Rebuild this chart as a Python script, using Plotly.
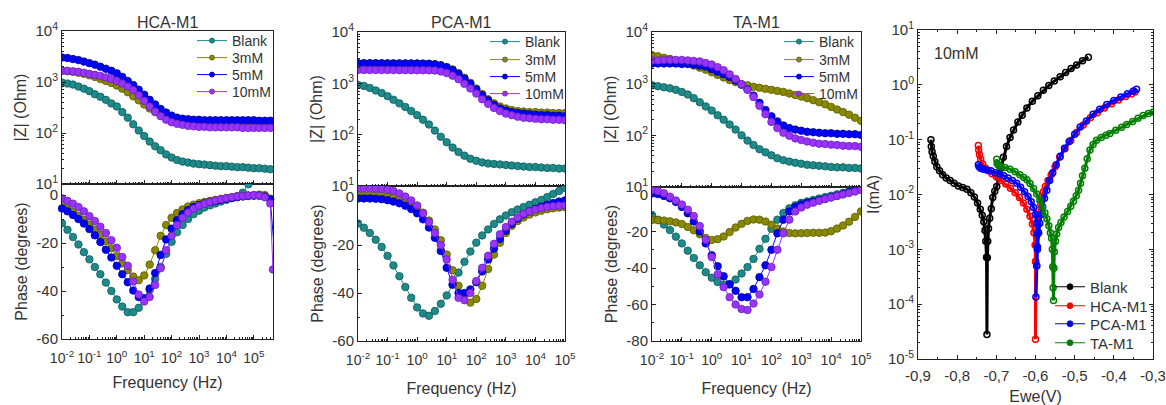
import plotly.graph_objects as go

# ---------------------------------------------------------------- data
# EIS frequency grid (Hz), five points per decade
FREQ = [0.01, 0.0158, 0.0251, 0.0398, 0.0631, 0.1, 0.158, 0.251, 0.398, 0.631,
        1.0, 1.58, 2.51, 3.98, 6.31, 10.0, 15.8, 25.1, 39.8, 63.1,
        100, 158, 251, 398, 631, 1000, 1580, 2510, 3980, 6310,
        10000, 15800, 25100, 39800, 63100, 100000]
FREQ_HCA = FREQ + [158000, 251000, 398000]
HCA_TAIL_FREQ_5MM = 600000
HCA_TAIL_FREQ_10MM = 500000
HCA_TAIL_PHASE_5MM = -27
HCA_TAIL_PHASE_10MM = -31

SERIES = ["Blank", "3mM", "5mM", "10mM"]

# HCA-M1 : |Z| (Ohm) and phase (degrees)
HCA_Z_BLANK = [977, 933, 891, 813, 741, 661, 575, 513, 447, 380, 331, 257, 200, 148, 112, 87, 68, 55, 46, 38,
               33, 29.5, 27.5, 26.3, 25.1, 24.5, 24.0, 23.4, 22.9, 22.4, 22.4, 21.9, 21.4, 21.4, 20.9, 20.4,
               20.4, 20.0, 19.5]
HCA_Z_3MM = [1660, 1622, 1585, 1514, 1445, 1349, 1259, 1148, 1047, 955, 851, 741, 631, 525, 437, 363, 302, 257,
             224, 200, 182, 166, 155, 148, 145, 141, 138, 138, 135, 135, 135, 135, 135, 135, 135, 132, 132, 132, 132]
HCA_Z_5MM = [3020, 2951, 2818, 2692, 2512, 2344, 2188, 1995, 1820, 1660, 1479, 1259, 1047, 871, 708, 562, 447, 363,
             295, 251, 219, 200, 191, 186, 182, 182, 178, 178, 178, 178, 178, 178, 178, 178, 178, 178, 174, 174, 174]
HCA_Z_10MM = [1660, 1660, 1622, 1585, 1514, 1445, 1380, 1318, 1230, 1148, 1047, 933, 813, 692, 550, 427, 331, 263,
              214, 182, 162, 151, 145, 138, 135, 132, 132, 129, 129, 129, 129, 129, 129, 126, 126, 126, 126, 126, 126]
HCA_PH_BLANK = [-11.8, -14.5, -17.5, -20.6, -23.8, -26.8, -30, -33, -36.5, -40, -43.5, -46.5, -48.8, -48.8, -47,
                -43.5, -39.5, -35, -30, -24.5, -19.5, -15.5, -12.5, -10, -8, -6.5, -5.2, -4.3, -3.5, -2.7, -2,
                -1.3, -0.4, 1.0, 4.5, 12]
HCA_PH_3MM = [-4.2, -5.6, -7.0, -8.6, -10.4, -12.3, -14.4, -16.6, -19.3, -22.2, -25.5, -28.5, -31.3, -34, -35.5,
              -33.5, -29, -23, -17, -12.5, -9.5, -7.5, -6, -4.8, -4, -3.4, -2.9, -2.4, -2, -1.6, -1.2, -0.9, -0.6,
              -0.4, -0.2, 0, 0.2, 0, -1.5]
HCA_PH_5MM = [-5.6, -6.8, -8.3, -10, -11.9, -14.2, -16.8, -19.6, -22.8, -26, -29.5, -33, -36.3, -39.8, -42.5, -43,
              -39, -32.5, -25, -18.5, -14, -10.5, -8, -6.3, -5, -4.2, -3.5, -3, -2.5, -2, -1.6, -1.2, -0.9, -0.6,
              -0.4, -0.3, -0.3, -0.6, -1.8]
HCA_PH_10MM = [-1.4, -2.4, -3.6, -5, -6.8, -8.8, -10.8, -13.2, -15.8, -18.8, -22, -25.8, -29.5, -36, -41.5, -44.4,
               -42.5, -37.5, -30.5, -23, -17, -12.5, -9.5, -7.3, -5.7, -4.5, -3.6, -2.9, -2.3, -1.8, -1.3, -0.9,
               -0.6, -0.4, -0.2, -0.1, -0.3, -0.9, -3.5]

# PCA-M1
PCA_Z_BLANK = [933, 891, 813, 724, 646, 562, 479, 407, 347, 288, 240, 195, 158, 120, 91, 71, 56, 46, 39, 34, 31,
               28.8, 27.5, 26.9, 26.3, 25.7, 25.1, 24.5, 24.0, 23.4, 23.4, 22.9, 22.4, 22.4, 21.9, 21.9]
PCA_Z_3MM = [2455, 2455, 2455, 2455, 2450, 2450, 2445, 2445, 2440, 2440, 2430, 2420, 2399, 2344, 2239, 2089, 1862,
             1585, 1288, 1023, 794, 617, 490, 407, 355, 324, 302, 288, 282, 275, 275, 269, 269, 263, 263, 263]
PCA_Z_5MM = [2455, 2455, 2450, 2450, 2450, 2445, 2445, 2440, 2440, 2435, 2430, 2420, 2399, 2344, 2239, 2042, 1820,
             1514, 1230, 977, 759, 589, 468, 380, 324, 295, 275, 263, 257, 251, 245, 240, 240, 234, 234, 229]
PCA_Z_10MM = [1820, 1820, 1815, 1815, 1810, 1810, 1810, 1805, 1805, 1800, 1800, 1795, 1790, 1778, 1698, 1585, 1413,
              1202, 977, 794, 631, 490, 398, 331, 288, 257, 240, 224, 214, 209, 204, 200, 200, 195, 195, 191]
PCA_PH_BLANK = [-11, -12.8, -15, -17.8, -20.8, -24.5, -28.5, -33, -37.5, -42, -46, -48.5, -49.5, -47.5, -44.5, -41,
                -36.5, -31.5, -27, -22.7, -19, -16, -13.5, -11.2, -9.3, -7.7, -6.3, -5.2, -4.2, -3.2, -2.2, -1.2,
                0.0, 1.3, 2.5, 3.8]
PCA_PH_3MM = [0.8, 0.8, 0.8, 0.7, 0.6, 0.3, -0.2, -1.0, -2.0, -3.2, -4.5, -6.5, -9.8, -13.5, -18, -24, -30.5, -37,
              -41.5, -44, -42.5, -37, -30, -24, -19, -15, -12, -10, -8.5, -7.3, -6.4, -5.7, -5.1, -4.7, -4.4, -4.2]
PCA_PH_5MM = [-0.6, -0.6, -0.6, -0.7, -0.9, -1.3, -1.9, -2.6, -3.6, -5.0, -6.8, -9.3, -12.7, -17, -22.5, -29.5,
              -36.5, -40, -40, -38.5, -35.5, -31, -26, -21.5, -17.5, -14, -11.2, -9, -7.3, -6, -4.9, -4.0, -3.2,
              -2.5, -1.9, -1.4]
PCA_PH_10MM = [3.6, 3.6, 3.6, 3.5, 3.4, 3.1, 2.5, 1.5, 0.2, -1.4, -3.5, -6.8, -10.5, -15, -20, -26, -34.5, -42,
               -43, -40, -35, -29.5, -24.5, -19.5, -15.5, -12.5, -10.3, -8.5, -7.0, -6.0, -5.2, -4.6, -4.1, -3.8,
               -3.6, -3.5]

# TA-M1
TA_Z_BLANK = [933, 891, 851, 813, 759, 692, 617, 525, 437, 363, 302, 245, 200, 162, 129, 100, 79, 65, 54, 47, 41,
              36, 33, 31, 29.5, 28.2, 26.9, 26.3, 25.7, 25.1, 24.5, 24.0, 24.0, 23.4, 23.4, 22.9]
TA_Z_3MM = [3548, 3388, 3162, 3020, 2818, 2630, 2455, 2239, 2042, 1862, 1660, 1479, 1318, 1175, 1072, 977, 933,
            871, 832, 794, 759, 724, 692, 646, 603, 562, 525, 479, 437, 398, 355, 316, 282, 251, 219, 191]
TA_Z_5MM = [2455, 2455, 2455, 2455, 2455, 2399, 2399, 2344, 2239, 2138, 1905, 1698, 1514, 1349, 1148, 955, 776,
            589, 427, 309, 234, 186, 155, 138, 129, 123, 117, 115, 112, 110, 110, 107, 107, 105, 105, 102]
TA_Z_10MM = [2818, 2818, 2884, 2884, 2884, 2884, 2818, 2754, 2692, 2512, 2344, 2089, 1820, 1514, 1230, 977, 759,
             550, 372, 257, 182, 138, 112, 98, 87, 81, 76, 72, 69, 68, 66, 65, 63, 62, 62, 60]
TA_PH_BLANK = [-11, -13.5, -16.2, -19.2, -22.8, -26.5, -30.5, -34.5, -38.5, -42.3, -45.3, -47.7, -49, -48.8,
               -46.3, -43, -39.5, -35, -29.5, -24, -18.5, -13.5, -9.8, -7.3, -5.6, -4.3, -3.5, -2.7, -1.9, -1.1,
               -0.4, 0.4, 1.2, 2.0, 2.8, 3.7]
TA_PH_3MM = [-13.7, -13.8, -14.0, -14.4, -15.0, -15.9, -17.5, -19.3, -21.5, -23.5, -24.6, -24.2, -22.7, -20.3,
             -17.8, -15.8, -14.2, -13.4, -13.5, -14.5, -16.3, -18.4, -20.0, -20.8, -21.0, -20.9, -20.8, -20.7,
             -20.7, -20.6, -19.8, -18.4, -16.7, -14.6, -12.0, -9.0]
TA_PH_5MM = [0.9, 0.5, -0.5, -1.8, -3.8, -6.5, -10, -14.5, -20, -26.5, -33, -39, -44.5, -49, -52.5, -56, -56,
             -51.5, -45, -38.5, -30, -21, -13.5, -9, -6.5, -5.2, -4.3, -3.6, -2.8, -2, -1.2, -0.4, 0.6, 1.6, 2.6, 3.7]
TA_PH_10MM = [2.7, 2.2, 1.0, -0.9, -3.0, -5.2, -8, -11.5, -17, -24.5, -34, -43.5, -50.5, -56, -60, -62.5, -63,
              -59.5, -54.5, -47.5, -39.5, -30, -21, -13.5, -9, -6.8, -5.3, -4.2, -3.2, -2.2, -1.3, -0.5, 0.3, 1.1,
              1.9, 2.7]

# Polarisation curves at 10mM: potential Ewe (V) and |I| (mA)
TAFEL_NAMES = ["Blank", "HCA-M1", "PCA-M1", "TA-M1"]
BLANK_E = [-0.867, -0.866, -0.864, -0.861, -0.857, -0.852, -0.845, -0.837, -0.828, -0.818, -0.808, -0.797, -0.786,
           -0.775, -0.765, -0.756, -0.748, -0.741, -0.736, -0.732, -0.729, -0.727, -0.725, -0.724, -0.723, -0.722,
           -0.720, -0.717, -0.713, -0.709, -0.704, -0.699, -0.694, -0.688, -0.682, -0.674, -0.665, -0.656, -0.645,
           -0.634, -0.622, -0.608, -0.594, -0.580, -0.566, -0.552, -0.537, -0.523, -0.509, -0.495, -0.480, -0.465]
BLANK_I = [0.100, 0.075, 0.060, 0.050, 0.040, 0.032, 0.027, 0.023, 0.020, 0.018, 0.016, 0.0143, 0.0134, 0.0125,
           0.0108, 0.0090, 0.0070, 0.0054, 0.0042, 0.0032, 0.0022, 0.0014, 0.00072, 0.000028, 0.0007, 0.0014,
           0.0024, 0.0037, 0.0055, 0.0088, 0.0115, 0.0140, 0.020, 0.030, 0.048, 0.075, 0.11, 0.15, 0.21, 0.28,
           0.38, 0.50, 0.63, 0.80, 0.97, 1.17, 1.40, 1.68, 1.98, 2.3, 2.75, 3.2]
HCA_E = [-0.746, -0.745, -0.743, -0.740, -0.735, -0.728, -0.720, -0.711, -0.700, -0.688, -0.676, -0.664, -0.652,
         -0.641, -0.631, -0.622, -0.614, -0.608, -0.604, -0.601, -0.600, -0.600, -0.599, -0.598, -0.596, -0.594,
         -0.592, -0.590, -0.587, -0.584, -0.580, -0.575, -0.568, -0.560, -0.550, -0.538, -0.525, -0.510, -0.495,
         -0.478, -0.460, -0.442, -0.424, -0.406, -0.388, -0.370, -0.355, -0.346]
HCA_I = [0.078, 0.065, 0.053, 0.044, 0.036, 0.030, 0.027, 0.024, 0.021, 0.018, 0.0155, 0.0130, 0.0108, 0.0088,
         0.0070, 0.0054, 0.0040, 0.0029, 0.0020, 0.0012, 0.0006, 0.000023, 0.0006, 0.0012, 0.0019, 0.0028, 0.0039,
         0.0052, 0.0068, 0.0088, 0.0112, 0.0140, 0.018, 0.023, 0.032, 0.048, 0.068, 0.097, 0.135, 0.185, 0.25,
         0.31, 0.38, 0.45, 0.53, 0.61, 0.68, 0.74]
PCA_E = [-0.746, -0.744, -0.740, -0.733, -0.724, -0.714, -0.703, -0.692, -0.681, -0.670, -0.659, -0.648, -0.638,
         -0.628, -0.619, -0.611, -0.605, -0.600, -0.597, -0.595, -0.595, -0.597, -0.599, -0.597, -0.595, -0.592,
         -0.589, -0.586, -0.582, -0.577, -0.571, -0.564, -0.556, -0.547, -0.537, -0.526, -0.514, -0.500, -0.486,
         -0.470, -0.453, -0.436, -0.418, -0.400, -0.382, -0.365, -0.350, -0.342]
PCA_I = [0.035, 0.032, 0.030, 0.029, 0.028, 0.027, 0.025, 0.024, 0.022, 0.020, 0.018, 0.016, 0.0135, 0.0112,
         0.0092, 0.0074, 0.0058, 0.0043, 0.0030, 0.0019, 0.0010, 0.0005, 0.000135, 0.0005, 0.0011, 0.0020, 0.0030,
         0.0043, 0.0060, 0.0085, 0.012, 0.018, 0.025, 0.035, 0.050, 0.070, 0.093, 0.125, 0.17, 0.22, 0.29, 0.36,
         0.44, 0.52, 0.60, 0.69, 0.77, 0.83]
TA_E = [-0.699, -0.698, -0.695, -0.688, -0.678, -0.665, -0.652, -0.640, -0.630, -0.622, -0.614, -0.605, -0.597,
        -0.589, -0.582, -0.576, -0.571, -0.566, -0.562, -0.559, -0.557, -0.556, -0.555, -0.554, -0.553, -0.552,
        -0.549, -0.546, -0.541, -0.535, -0.527, -0.518, -0.510, -0.503, -0.496, -0.490, -0.485, -0.480, -0.474,
        -0.468, -0.461, -0.453, -0.444, -0.432, -0.420, -0.410, -0.395, -0.380, -0.367, -0.352, -0.338, -0.325,
        -0.312, -0.299]
TA_I = [0.044, 0.037, 0.034, 0.032, 0.031, 0.029, 0.026, 0.023, 0.0205, 0.0185, 0.0158, 0.0128, 0.0102, 0.0079,
        0.0060, 0.0046, 0.0036, 0.0027, 0.0020, 0.0016, 0.0010, 0.00048, 0.00020, 0.000117, 0.00045, 0.0009, 0.0014,
        0.0019, 0.0025, 0.0031, 0.0039, 0.0049, 0.0061, 0.0075, 0.0095, 0.012, 0.016, 0.022, 0.030, 0.045, 0.065,
        0.082, 0.098, 0.110, 0.121, 0.130, 0.148, 0.168, 0.190, 0.215, 0.245, 0.275, 0.30, 0.32]

# tick labels
FREQ_TICKS = [0.01, 0.1, 1, 10, 100, 1000, 10000, 100000]
FREQ_TICK_TEXT = ["10<sup>-2</sup>", "10<sup>-1</sup>", "10<sup>0</sup>", "10<sup>1</sup>", "10<sup>2</sup>",
                  "10<sup>3</sup>", "10<sup>4</sup>", "10<sup>5</sup>"]
Z_TICKS = [10, 100, 1000, 10000]
Z_TICK_TEXT = ["10<sup>1</sup>", "10<sup>2</sup>", "10<sup>3</sup>", "10<sup>4</sup>"]
I_TICKS = [1e-5, 1e-4, 1e-3, 1e-2, 1e-1, 1, 10]
I_TICK_TEXT = ["10<sup>-5</sup>", "10<sup>-4</sup>", "10<sup>-3</sup>", "10<sup>-2</sup>", "10<sup>-1</sup>",
               "10<sup>0</sup>", "10<sup>1</sup>"]
E_TICKS = [-0.9, -0.8, -0.7, -0.6, -0.5, -0.4, -0.3]
E_TICK_TEXT = ["-0,9", "-0,8", "-0,7", "-0,6", "-0,5", "-0,4", "-0,3"]

# ---------------------------------------------------------------- style
W, H = 1166, 405
FONT = "Liberation Sans, Arial, sans-serif"
TXT = "#333333"
AXC = "#222222"
EIS_COLORS = ["#1f8a8a", "#8a8a00", "#0000ff", "#9933ff"]
EIS_EDGES = ["#0d5c5c", "#5c5c00", "#00009a", "#6a1fb8"]
TAFEL_COLORS = ["#000000", "#ff0000", "#0000ff", "#008000"]


def xdom(a, b):
    return [a / W, b / W]


def ydom(top, bottom):
    return [1 - bottom / H, 1 - top / H]


def log_minor(lo, hi):
    return [m * 10.0 ** e for e in range(lo, hi) for m in range(2, 10)]


BASE_AX = dict(showline=True, linecolor=AXC, linewidth=1, ticks="inside", ticklen=4, tickcolor=AXC,
               showgrid=False, zeroline=False, automargin=False, tickangle=0,
               tickfont=dict(family=FONT, size=15, color=TXT))

PANELS = [
    dict(title="HCA-M1", freq=FREQ_HCA, xr=[-2, 5.7], xpx=(62, 273), top=(31, 184), bot=(184, 339),
         prange=[-60, 4.6], pticks=[-60, -40, -20, 0], leg_x=197, leg_y=[41, 58, 75, 92], xt_stand=12,
         z=[HCA_Z_BLANK, HCA_Z_3MM, HCA_Z_5MM, HCA_Z_10MM],
         ph=[HCA_PH_BLANK, HCA_PH_3MM, HCA_PH_5MM, HCA_PH_10MM]),
    dict(title="PCA-M1", freq=FREQ, xr=[-2, 5], xpx=(358, 565), top=(32, 186), bot=(186, 341),
         prange=[-60, 4.6], pticks=[-60, -40, -20, 0], leg_x=490, leg_y=[42, 60, 77, 94], xt_stand=16,
         z=[PCA_Z_BLANK, PCA_Z_3MM, PCA_Z_5MM, PCA_Z_10MM],
         ph=[PCA_PH_BLANK, PCA_PH_3MM, PCA_PH_5MM, PCA_PH_10MM]),
    dict(title="TA-M1", freq=FREQ, xr=[-2, 5], xpx=(652, 861), top=(32, 187), bot=(187, 341),
         prange=[-80, 4.4], pticks=[-80, -60, -40, -20, 0], leg_x=784, leg_y=[42, 60, 77, 94], xt_stand=16,
         z=[TA_Z_BLANK, TA_Z_3MM, TA_Z_5MM, TA_Z_10MM],
         ph=[TA_PH_BLANK, TA_PH_3MM, TA_PH_5MM, TA_PH_10MM]),
]

fig = go.Figure()
layout = dict(width=W, height=H, margin=dict(l=0, r=0, t=0, b=0), paper_bgcolor="white",
              plot_bgcolor="white", font=dict(family=FONT, color=TXT), annotations=[], showlegend=True)

legend_count = [0]


def add_key(name, color, edge, size, symbol, x_px, y_px, font_size, xaxis, yaxis):
    """One legend entry per legend box, so each row sits where it is placed."""
    legend_count[0] += 1
    k = legend_count[0]
    leg_name = "legend" if k == 1 else f"legend{k}"
    fig.add_trace(go.Scatter(
        x=[None], y=[None], name=name, mode="lines+markers", xaxis=xaxis, yaxis=yaxis,
        line=dict(color=color, width=1),
        marker=dict(size=size, color=color, symbol=symbol, line=dict(color=edge, width=0.8)),
        legend=leg_name, showlegend=True, hoverinfo="skip"))
    # plotly draws the key line from 5 px to 35 px inside the box
    layout[leg_name] = dict(x=(x_px - 5) / W, y=1 - y_px / H, xanchor="left", yanchor="middle",
                            bgcolor="rgba(0,0,0,0)", borderwidth=0,
                            font=dict(family=FONT, size=font_size, color=TXT),
                            itemwidth=30, tracegroupgap=0)


for p_i, p in enumerate(PANELS):
    n_top = 2 * p_i + 1
    n_bot = 2 * p_i + 2
    xt, yt = f"x{n_top}", f"y{n_top}"
    xb, yb = f"x{n_bot}", f"y{n_bot}"

    for s_i, name in enumerate(SERIES):
        zs = p["z"][s_i]
        fig.add_trace(go.Scatter(
            x=p["freq"][:len(zs)], y=zs, name=name, mode="lines+markers", xaxis=xt, yaxis=yt,
            line=dict(color=EIS_COLORS[s_i], width=1),
            marker=dict(size=7.5, color=EIS_COLORS[s_i], line=dict(color=EIS_EDGES[s_i], width=0.8)),
            showlegend=False))
        add_key(name, EIS_COLORS[s_i], EIS_EDGES[s_i], 5, "circle", p["leg_x"], p["leg_y"][s_i], 14, xt, yt)

    for s_i, name in enumerate(SERIES):
        ph = p["ph"][s_i]
        fx = p["freq"][:len(ph)]
        clip = True
        if p_i == 0 and name == "5mM":
            fx = fx + [HCA_TAIL_FREQ_5MM]
            ph = ph + [HCA_TAIL_PHASE_5MM]
            clip = False
        if p_i == 0 and name == "10mM":
            fx = fx + [HCA_TAIL_FREQ_10MM]
            ph = ph + [HCA_TAIL_PHASE_10MM]
        fig.add_trace(go.Scatter(
            x=fx, y=ph, name=name, mode="lines+markers", xaxis=xb, yaxis=yb, cliponaxis=clip,
            line=dict(color=EIS_COLORS[s_i], width=1),
            marker=dict(size=7.5, color=EIS_COLORS[s_i], line=dict(color=EIS_EDGES[s_i], width=0.8)),
            showlegend=False))

    xd = xdom(*p["xpx"])
    minor_f = dict(ticks="inside", ticklen=2, tickcolor=AXC, tickmode="array",
                   tickvals=log_minor(-2, 6), showgrid=False)
    layout[f"xaxis{n_top}"] = dict(BASE_AX, type="log", domain=xd, range=p["xr"], anchor=yt, mirror=True,
                                   tickmode="array", tickvals=FREQ_TICKS, showticklabels=False,
                                   matches=xb, minor=minor_f)
    layout[f"xaxis{n_bot}"] = dict(BASE_AX, type="log", domain=xd, range=p["xr"], anchor=yb, mirror=True,
                                   tickmode="array", tickvals=FREQ_TICKS, ticktext=FREQ_TICK_TEXT,
                                   tickfont=dict(family=FONT, size=14, color=TXT), ticklabelstandoff=6,
                                   minor=minor_f,
                                   title=dict(text="Frequency (Hz)", font=dict(size=16, color=TXT),
                                              standoff=p["xt_stand"]))
    layout[f"yaxis{n_top}"] = dict(BASE_AX, type="log", domain=ydom(*p["top"]), range=[1, 4], anchor=xt,
                                   mirror=True, tickmode="array", tickvals=Z_TICKS, ticktext=Z_TICK_TEXT,
                                   minor=dict(ticks="inside", ticklen=2, tickcolor=AXC, tickmode="array",
                                              tickvals=log_minor(1, 4), showgrid=False),
                                   title=dict(text="|Z| (Ohm)", font=dict(size=16, color=TXT), standoff=4))
    layout[f"yaxis{n_bot}"] = dict(BASE_AX, domain=ydom(*p["bot"]), range=p["prange"], anchor=xb,
                                   mirror=True, tickmode="array", tickvals=p["pticks"],
                                   ticktext=[str(v) for v in p["pticks"]],
                                   minor=dict(ticks="inside", ticklen=2, tickcolor=AXC, dtick=10,
                                              showgrid=False),
                                   title=dict(text="Phase (degrees)", font=dict(size=16, color=TXT), standoff=4))
    layout["annotations"].append(dict(
        text=p["title"], x=(p["xpx"][0] + p["xpx"][1]) / 2 / W, y=1 - 22 / H, xref="paper", yref="paper",
        showarrow=False, font=dict(family=FONT, size=16, color=TXT), xanchor="center", yanchor="middle"))

# ---------------------------------------------------------------- polarisation panel
TAFEL = [(BLANK_E, BLANK_I), (HCA_E, HCA_I), (PCA_E, PCA_I), (TA_E, TA_I)]
TAFEL_KEY_Y = [287, 306, 324, 343]
for t_i, (ev, iv) in enumerate(TAFEL):
    fig.add_trace(go.Scatter(
        x=ev, y=iv, name=TAFEL_NAMES[t_i], mode="lines+markers", xaxis="x7", yaxis="y7",
        line=dict(color=TAFEL_COLORS[t_i], width=3),
        marker=dict(symbol="circle-open", size=6, color=TAFEL_COLORS[t_i], line=dict(width=1.5)),
        showlegend=False))
    add_key(TAFEL_NAMES[t_i], TAFEL_COLORS[t_i], TAFEL_COLORS[t_i], 6, "circle", 1055, TAFEL_KEY_Y[t_i], 15,
            "x7", "y7")

layout["xaxis7"] = dict(BASE_AX, domain=xdom(918, 1153), range=[-0.9, -0.3], anchor="y7", mirror="ticks",
                        tickmode="array", tickvals=E_TICKS, ticktext=E_TICK_TEXT, ticklabelstandoff=3,
                        minor=dict(ticks="inside", ticklen=2, tickcolor=AXC, dtick=0.05, showgrid=False),
                        title=dict(text="Ewe(V)", font=dict(size=16, color=TXT), standoff=18))
layout["yaxis7"] = dict(BASE_AX, type="log", domain=ydom(30, 359), range=[-5, 1], anchor="x7", mirror="ticks",
                        tickmode="array", tickvals=I_TICKS, ticktext=I_TICK_TEXT,
                        minor=dict(ticks="inside", ticklen=2, tickcolor=AXC, tickmode="array",
                                   tickvals=log_minor(-5, 1), showgrid=False),
                        title=dict(text="I(mA)", font=dict(size=16, color=TXT), standoff=4))
layout["annotations"].append(dict(
    text="10mM", x=932 / W, y=1 - 53 / H, xref="paper", yref="paper", showarrow=False,
    font=dict(family=FONT, size=16, color=TXT), xanchor="left", yanchor="middle"))

fig.update_layout(**layout)
fig.write_html("out.html")
